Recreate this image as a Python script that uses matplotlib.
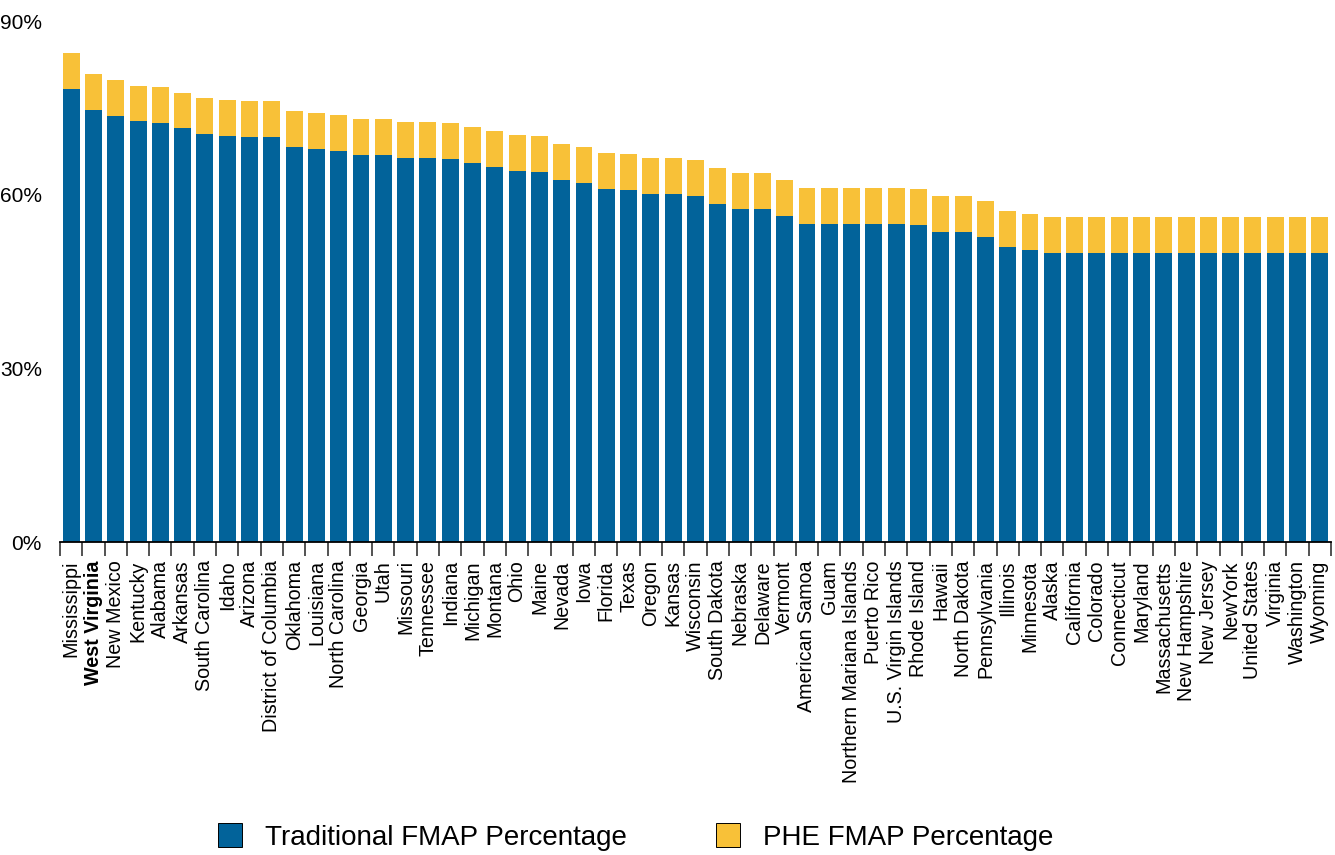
import matplotlib
matplotlib.use("Agg")
import matplotlib.pyplot as plt
import numpy as np
from matplotlib.patches import Patch

plt.rcParams['font.family'] = ['Liberation Sans', 'DejaVu Sans']

# Data (percent)
states = ["Mississippi", "West Virginia", "New Mexico", "Kentucky", "Alabama", "Arkansas",
          "South Carolina", "Idaho", "Arizona", "District of Columbia", "Oklahoma", "Louisiana",
          "North Carolina", "Georgia", "Utah", "Missouri", "Tennessee", "Indiana", "Michigan",
          "Montana", "Ohio", "Maine", "Nevada", "Iowa", "Florida", "Texas", "Oregon", "Kansas",
          "Wisconsin", "South Dakota", "Nebraska", "Delaware", "Vermont", "American Samoa", "Guam",
          "Northern Mariana Islands", "Puerto Rico", "U.S. Virgin Islands", "Rhode Island", "Hawaii",
          "North Dakota", "Pennsylvania", "Illinois", "Minnesota", "Alaska", "California", "Colorado",
          "Connecticut", "Maryland", "Massachusetts", "New Hampshire", "New Jersey", "NewYork",
          "United States", "Virginia", "Washington", "Wyoming"]
traditional = [78.3, 74.7, 73.6, 72.7, 72.4, 71.5, 70.6, 70.2, 70.0, 70.0, 68.3, 67.9,
               67.6, 66.9, 66.9, 66.4, 66.4, 66.2, 65.5, 64.8, 64.1, 64.0, 62.6, 62.1,
               61.0, 60.9, 60.2, 60.2, 59.8, 58.4, 57.6, 57.6, 56.4, 55.0, 55.0,
               55.0, 55.0, 55.0, 54.8, 53.6, 53.6, 52.7, 51.0, 50.5, 50.0, 50.0, 50.0,
               50.0, 50.0, 50.0, 50.0, 50.0, 50.0, 50.0, 50.0, 50.0, 50.0]
phe = [6.2] * len(states)
highlight = "West Virginia"

BLUE = "#02639A"
YELLOW = "#F8C138"

fig = plt.figure(figsize=(13.35, 8.55), dpi=100)
ax = fig.add_axes([60 / 1335, 1 - 542.3 / 855, 1271 / 1335, 521 / 855])

x = np.arange(len(states))
ax.bar(x, traditional, width=0.76, color=BLUE)
ax.bar(x, phe, bottom=traditional, width=0.76, color=YELLOW)

ax.set_xlim(-0.5, len(states) - 0.5)
ax.set_ylim(0, 90)

# y axis: labels only
ax.set_yticks([0, 30, 60, 90])
ax.set_yticklabels(["0%", "30%", "60%", "90%"], fontsize=15)
ax.tick_params(axis="y", length=0, pad=13)

# x axis: boundary tick marks (major), names at centers (minor)
ax.set_xticks(np.arange(len(states) + 1) - 0.5)
ax.set_xticklabels([])
ax.tick_params(axis="x", which="major", length=10, width=1.3, color="#444444")
ax.set_xticks(x, minor=True)
ax.set_xticklabels(states, minor=True, rotation=90, fontsize=14.2, va="top", ha="center")
ax.tick_params(axis="x", which="minor", length=0, pad=13)
for lbl in ax.get_xticklabels(minor=True):
    if lbl.get_text() == highlight:
        lbl.set_fontweight("bold")

for side in ["top", "right", "left"]:
    ax.spines[side].set_visible(False)
ax.spines["bottom"].set_linewidth(1.3)

handles = [Patch(facecolor=BLUE, edgecolor="black", linewidth=0.7),
           Patch(facecolor=YELLOW, edgecolor="black", linewidth=0.7)]
fig.legend(handles, ["Traditional FMAP Percentage", "PHE FMAP Percentage"],
           loc="center", bbox_to_anchor=(636 / 1335, 18 / 855), ncol=2, frameon=False,
           fontsize=20, handlelength=0.86, handleheight=0.94, handletextpad=0.83,
           columnspacing=3.2, borderpad=0)

fig.savefig("out.png", dpi=100)
